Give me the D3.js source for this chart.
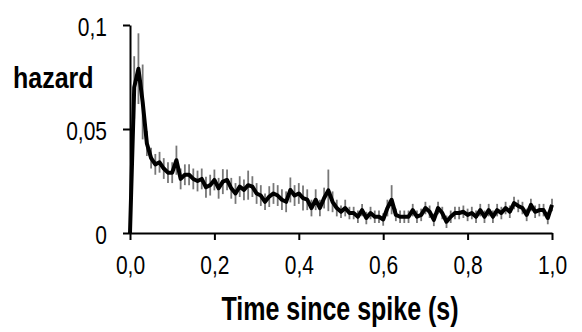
<!DOCTYPE html>
<html>
<head>
<meta charset="utf-8">
<script src="https://cdn.jsdelivr.net/npm/d3@7"></script>
<style>
  body { margin: 0; background: #fff; }
  text { font-family: "Liberation Sans", Arial, sans-serif; }
</style>
</head>
<body>
<svg id="chart" width="582" height="332"></svg>
<script>
// hazard per 10 ms bin
const times = d3.range(0, 101).map((i) => i / 100);
const hazard = [
    0, 0.070, 0.079, 0.063, 0.043, 0.036, 0.033, 0.034, 0.031, 0.029,
    0.029, 0.035, 0.026, 0.028, 0.028, 0.026, 0.025, 0.026, 0.022, 0.023,
    0.0255, 0.0215, 0.0247, 0.0255, 0.0215, 0.019, 0.0223, 0.0207, 0.023, 0.0223,
    0.019, 0.018, 0.015, 0.0175, 0.019, 0.018, 0.016, 0.015, 0.0207, 0.018,
    0.019, 0.0168, 0.016, 0.012, 0.016, 0.012, 0.0168, 0.0205, 0.015, 0.012,
    0.0102, 0.012, 0.0096, 0.0096, 0.0078, 0.011, 0.0072, 0.0096, 0.0078, 0.0078,
    0.0065, 0.012, 0.016, 0.0087, 0.0078, 0.0078, 0.0078, 0.011, 0.0078, 0.0087,
    0.012, 0.0102, 0.0063, 0.012, 0.0096, 0.0054, 0.0078, 0.0096, 0.0096, 0.0102,
    0.0087, 0.0096, 0.0078, 0.011, 0.0078, 0.011, 0.0078, 0.011, 0.0096, 0.012,
    0.0102, 0.0144, 0.013, 0.012, 0.0087, 0.0135, 0.0102, 0.011, 0.011, 0.0072,
    0.0135
];
const errors = [
    0, 0.015, 0.017, 0.018, 0.006, 0.005, 0.005, 0.005, 0.005, 0.005,
    0.005, 0.007, 0.005, 0.005, 0.005, 0.005, 0.005, 0.005, 0.005, 0.005,
    0.005, 0.005, 0.006, 0.005, 0.005, 0.005, 0.005, 0.005, 0.007, 0.005,
    0.005, 0.005, 0.004, 0.005, 0.005, 0.005, 0.005, 0.005, 0.006, 0.005,
    0.005, 0.006, 0.005, 0.004, 0.005, 0.004, 0.005, 0.010, 0.005, 0.004,
    0.003, 0.004, 0.003, 0.003, 0.003, 0.003, 0.003, 0.003, 0.003, 0.003,
    0.003, 0.004, 0.007, 0.003, 0.003, 0.003, 0.003, 0.003, 0.003, 0.003,
    0.003, 0.003, 0.003, 0.003, 0.003, 0.003, 0.003, 0.003, 0.003, 0.003,
    0.003, 0.003, 0.003, 0.003, 0.003, 0.003, 0.003, 0.003, 0.003, 0.003,
    0.003, 0.003, 0.003, 0.003, 0.003, 0.003, 0.003, 0.003, 0.003, 0.003,
    0.003
];
const xTicks = [0, 0.2, 0.4, 0.6, 0.8, 1.0];
const yTicks = [0, 0.05, 0.1];
const yTickLabels = ['0', '0,05', '0,1'];

const svg = d3.select('#chart');
const x = d3.scaleLinear().domain([0, 1]).range([130, 552]);
const y = d3.scaleLinear().domain([0, 0.1]).range([233, 25]);

const data = times.map((t, i) => ({ t, v: hazard[i], e: errors[i] }));

// error bars
svg.append('g')
    .selectAll('line')
    .data(data)
    .enter()
    .append('line')
    .attr('x1', (d) => x(d.t))
    .attr('x2', (d) => x(d.t))
    .attr('y1', (d) => y(d.v + d.e))
    .attr('y2', (d) => y(Math.max(0, d.v - d.e)))
    .style('stroke', '#777')
    .style('stroke-width', 1.8);

// axes
const xAxis = svg.append('g')
    .attr('transform', 'translate(0,233)')
    .call(d3.axisBottom(x)
        .tickValues(xTicks)
        .tickSize(7)
        .tickSizeOuter(0)
        .tickFormat((d) => d3.format('.1f')(d).replace('.', ',')));

const yAxis = svg.append('g')
    .attr('transform', 'translate(130,0)')
    .call(d3.axisLeft(y)
        .tickValues(yTicks)
        .tickSize(7)
        .tickSizeOuter(0)
        .tickFormat((d, i) => yTickLabels[i]));

[xAxis, yAxis].forEach((g) => {
    g.selectAll('path, line').style('stroke', '#000').style('stroke-width', 2);
    g.selectAll('text')
        .style('font-size', '21px')
        .style('fill', '#000')
        .style('font-family', '"Liberation Sans", Arial, sans-serif')
        .attr('dy', null)
        .attr('x', 0)
        .attr('y', 0);
});
// labels look vertically stretched in the original
xAxis.selectAll('text').attr('transform', 'translate(0,41) scale(1,1.2)');
yAxis.selectAll('text').attr('transform', 'translate(-23,10) scale(1,1.2)');

// hazard line
svg.append('path')
    .datum(data)
    .attr('d', d3.line().x((d) => x(d.t)).y((d) => y(d.v)))
    .style('fill', 'none')
    .style('stroke', '#000')
    .style('stroke-width', 4)
    .style('stroke-linejoin', 'round');

// axis titles
svg.append('text')
    .attr('transform', 'translate(13,88) scale(1,1.2)')
    .style('font-size', '25px')
    .style('font-weight', 'bold')
    .text('hazard');

svg.append('text')
    .attr('transform', 'translate(340,320) scale(1,1.3)')
    .attr('text-anchor', 'middle')
    .style('font-size', '25px')
    .style('font-weight', 'bold')
    .text('Time since spike (s)');
</script>
</body>
</html>
